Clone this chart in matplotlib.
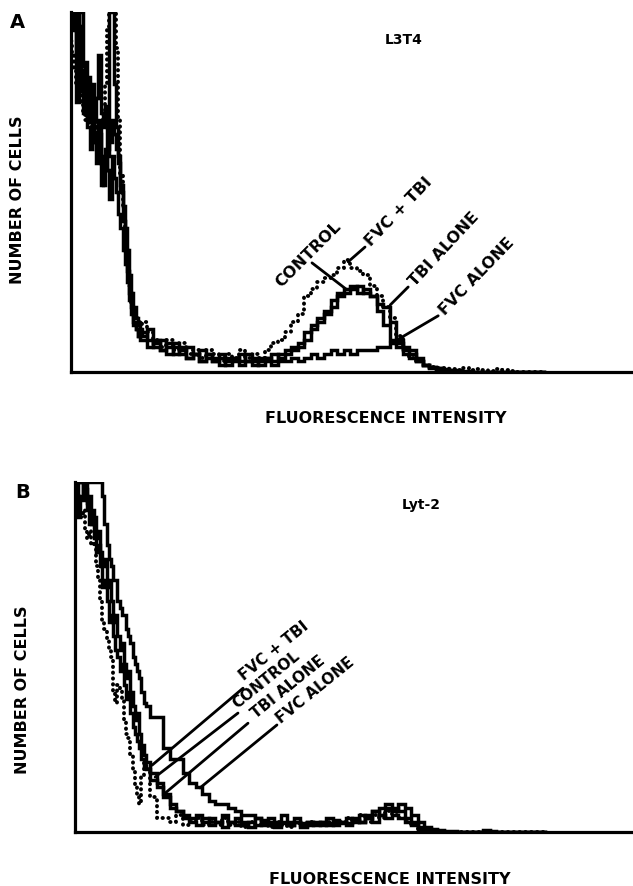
import numpy as np
import matplotlib
matplotlib.use('Agg')
import matplotlib.pyplot as plt

# histogram channels: every channel up to 32, then every 3rd channel
channels = np.concatenate([np.arange(0, 33), np.arange(33, 219, 3)])

# Panel A - L3T4 (values in % of full scale)
a_control = [100, 100, 100, 75, 100, 100, 85, 78, 82, 74, 80,
             70, 76, 88, 72, 68, 74, 60, 64, 70, 66, 62,
             58, 52, 46, 40, 34, 27, 22, 18, 15, 13, 12,
             11, 9, 8, 9, 7, 8, 6, 7, 5,
             6, 5, 4, 5, 3, 4, 5, 3, 4, 3,
             4, 5, 4, 6, 7, 8, 11, 13, 15, 17,
             20, 22, 23, 24, 22, 23, 21, 17, 13, 9,
             7, 5, 4, 3, 2, 1.5, 1, 0.8, 0.5, 0.5,
             0.3, 0, 0, 0, 0, 0, 0, 0, 0, 0, 0, 0, 0]
a_fvc_tbi = [92, 88, 84, 80, 78, 75, 72, 70, 74, 68, 72,
             66, 70, 64, 68, 72, 80, 95, 100, 100, 100, 90,
             70, 55, 45, 38, 30, 24, 19, 16, 15, 14, 13,
             14, 11, 9, 7, 9, 6, 8, 5, 6,
             4, 6, 5, 3, 5, 4, 6, 4, 5, 4,
             6, 8, 9, 11, 14, 16, 21, 23, 25, 26,
             27, 29, 31, 29, 28, 27, 24, 21, 18, 15,
             10, 6, 4, 3, 2, 1.5, 1, 1, 0.8, 0.5,
             1, 0.5, 0.8, 0.5, 0.3, 0.8, 0.5, 0.3, 0, 0, 0, 0, 0]
a_tbi = [100, 100, 95, 88, 82, 78, 84, 76, 70, 78, 72,
         66, 62, 70, 58, 52, 62, 56, 48, 60, 54, 50,
         44, 40, 34, 30, 25, 20, 16, 13, 12, 10, 11,
         10, 12, 7, 6, 8, 5, 7, 4, 5,
         3, 5, 3, 4, 2, 4, 3, 5, 3, 2,
         4, 3, 5, 5, 6, 7, 9, 12, 14, 16,
         18, 21, 22, 23, 24, 22, 21, 19, 18, 14,
         8, 6, 5, 3, 2, 1, 0.8, 0.5, 0.3, 0,
         0, 0, 0, 0, 0, 0, 0, 0, 0, 0, 0, 0, 0]
a_fvc = [100, 100, 100, 100, 96, 82, 72, 86, 68, 62, 75,
         64, 58, 66, 52, 60, 56, 62, 100, 100, 80, 68,
         60, 50, 42, 34, 28, 22, 18, 14, 12, 10, 9,
         9, 7, 9, 6, 5, 7, 5, 4, 5,
         3, 4, 3, 2, 4, 3, 2, 3, 2, 4,
         3, 2, 3, 3, 4, 3, 4, 5, 4, 5,
         6, 5, 6, 5, 6, 6, 6, 7, 7, 8,
         9, 7, 6, 4, 2, 1.5, 1, 0.6, 0.4, 0,
         0, 0, 0, 0, 0, 0, 0, 0, 0, 0, 0, 0, 0]

# Panel B - Lyt-2
b_fvc_tbi = [100, 100, 96, 90, 92, 86, 84, 86, 82, 83, 76,
             72, 66, 60, 58, 55, 52, 50, 40, 37, 42, 41,
             38, 32, 28, 27, 22, 18, 13, 10, 8, 16, 20,
             18, 10, 4, 4, 3, 5, 2, 3, 4,
             2, 3, 2, 4, 2, 3, 1.5, 3, 2, 2.5,
             1.5, 3, 2, 1.5, 2.5, 2, 3, 2, 2.5, 3,
             2, 3, 4, 3, 5, 3, 5, 4, 6, 5,
             4, 3, 2, 1, 0.5, 0, 0, 0, 0, 0,
             0, 0, 0, 0, 0, 0, 0, 0, 0, 0, 0, 0, 0]
b_control = [100, 100, 100, 100, 95, 100, 92, 96, 88, 90, 84,
             86, 80, 76, 78, 70, 72, 66, 60, 62, 56, 52,
             54, 48, 44, 46, 40, 36, 32, 34, 28, 25, 22,
             20, 17, 14, 10, 7, 6, 5, 4, 5,
             3, 4, 3, 5, 3, 4, 2, 3, 4, 2,
             3, 2, 3, 2, 3, 2.5, 3, 2, 3, 4,
             3, 2.5, 4, 3, 5, 4, 6, 7, 8, 7,
             6, 4, 3, 1.5, 1, 0.5, 0, 0, 0, 0,
             0, 0, 0, 0, 0, 0, 0, 0, 0, 0, 0, 0, 0]
b_tbi = [100, 100, 90, 96, 100, 98, 94, 88, 92, 84, 80,
         82, 76, 70, 72, 66, 60, 62, 56, 52, 50, 46,
         48, 42, 38, 40, 34, 30, 28, 26, 24, 21, 19,
         18, 15, 13, 11, 8, 6, 4, 3, 2,
         4, 2, 3, 1.5, 3, 2, 3, 1.5, 2, 3,
         2, 1.5, 2.5, 2, 3, 1.5, 2, 3, 2, 2.5,
         2, 3, 2, 3.5, 3, 4, 3, 5, 4, 5,
         4, 3, 2, 1, 0.5, 0, 0, 0, 0, 0,
         0, 0, 0, 0, 0, 0, 0, 0, 0, 0, 0, 0, 0]
b_fvc = [100, 100, 100, 100, 100, 100, 100, 100, 100, 100, 100,
         100, 100, 96, 88, 82, 78, 76, 72, 72, 66, 64,
         62, 62, 58, 56, 54, 50, 48, 46, 44, 40, 37,
         36, 33, 33, 24, 21, 21, 17, 14, 13,
         11, 9, 8, 8, 7, 6, 5, 5, 4, 3.5,
         4, 3, 5, 3, 4, 2, 3, 2.5, 3, 2,
         3.5, 3, 2.5, 4, 3, 5, 6, 5, 7, 6,
         8, 7, 5, 3, 1.5, 1, 0.6, 0.4, 0.3, 0,
         0, 0, 0, 0.5, 0.3, 0, 0, 0, 0, 0, 0, 0, 0]

labels = ['CONTROL', 'FVC + TBI', 'TBI ALONE', 'FVC ALONE']

SOLID = dict(color='black', lw=2.5, solid_joinstyle='miter')
DOTS = dict(color='black', lw=2.8, linestyle=(0, (0.1, 1.4)), dash_capstyle='round')

fig = plt.figure(figsize=(6.33, 8.86), dpi=100)
axA = fig.add_axes([0.1122, 0.5802, 0.886, 0.4063])
axB = fig.add_axes([0.1185, 0.0609, 0.880, 0.3950])


def draw_panel(ax, control, fvc_tbi, tbi, fvc):
    for vals in (control, tbi, fvc):
        ax.plot(channels, vals, drawstyle='steps-mid', **SOLID)
    ax.plot(channels, fvc_tbi, drawstyle='steps-mid', **DOTS)
    ax.set_xlim(0, 256)
    ax.set_ylim(0, 100)
    ax.set_xticks([])
    ax.set_yticks([])
    for s in ['top', 'right']:
        ax.spines[s].set_visible(False)
    for s in ['left', 'bottom']:
        ax.spines[s].set_linewidth(2.3)


def leader(ax, start, end):
    ax.annotate('', xy=end, xytext=start,
                arrowprops=dict(arrowstyle='-', lw=2.0, color='black',
                                shrinkA=0, shrinkB=0))


draw_panel(axA, a_control, a_fvc_tbi, a_tbi, a_fvc)
draw_panel(axB, b_control, b_fvc_tbi, b_tbi, b_fvc)

txt = dict(fontsize=11.5, fontweight='bold', family='DejaVu Sans')
txt_b = dict(fontsize=11, fontweight='bold', family='DejaVu Sans')

# panel A labels
axA.text(108.2, 32.5, labels[0], rotation=45, ha='center', va='center',
         rotation_mode='anchor', **txt)
leader(axA, (110.0, 30.3), (126.0, 22.8))
axA.text(135.6, 35.6, labels[1], rotation=46, ha='left', va='center',
         rotation_mode='anchor', **txt)
leader(axA, (134.2, 34.7), (126.5, 30.6))
axA.text(155.3, 24.4, labels[2], rotation=47, ha='left', va='center',
         rotation_mode='anchor', **txt)
leader(axA, (153.9, 23.6), (145.7, 18.6))
axA.text(169.0, 16.4, labels[3], rotation=46, ha='left', va='center',
         rotation_mode='anchor', **txt)
leader(axA, (167.6, 15.6), (148.9, 8.9))

# panel B labels
axB.text(76.3, 44.2, labels[1], rotation=39, ha='left', va='center',
         rotation_mode='anchor', **txt_b)
leader(axB, (77.2, 41.1), (35.4, 19.1))
axB.text(73.2, 36.2, labels[0], rotation=39, ha='left', va='center',
         rotation_mode='anchor', **txt_b)
leader(axB, (74.9, 34.0), (36.8, 15.7))
axB.text(81.9, 33.3, labels[2], rotation=39, ha='left', va='center',
         rotation_mode='anchor', **txt_b)
leader(axB, (79.5, 31.1), (41.4, 11.1))
axB.text(93.4, 31.9, labels[3], rotation=39, ha='left', va='center',
         rotation_mode='anchor', **txt_b)
leader(axB, (92.8, 30.6), (57.4, 12.6))

# figure texts
fig.text(0.027, 0.975, 'A', fontsize=14, fontweight='bold', ha='center', va='center')
fig.text(0.035, 0.444, 'B', fontsize=14, fontweight='bold', ha='center', va='center')
fig.text(0.637, 0.955, 'L3T4', fontsize=10, fontweight='bold', ha='center', va='center')
fig.text(0.665, 0.430, 'Lyt-2', fontsize=10, fontweight='bold', ha='center', va='center')
fig.text(0.027, 0.774, 'NUMBER OF CELLS', rotation=90, ha='center', va='center', **txt)
fig.text(0.035, 0.221, 'NUMBER OF CELLS', rotation=90, ha='center', va='center', **txt)
fig.text(0.610, 0.528, 'FLUORESCENCE INTENSITY', ha='center', va='center', **txt)
fig.text(0.616, 0.0158, 'FLUORESCENCE INTENSITY', ha='center', va='top', **txt)

fig.savefig('out.png', dpi=100, facecolor='white')
